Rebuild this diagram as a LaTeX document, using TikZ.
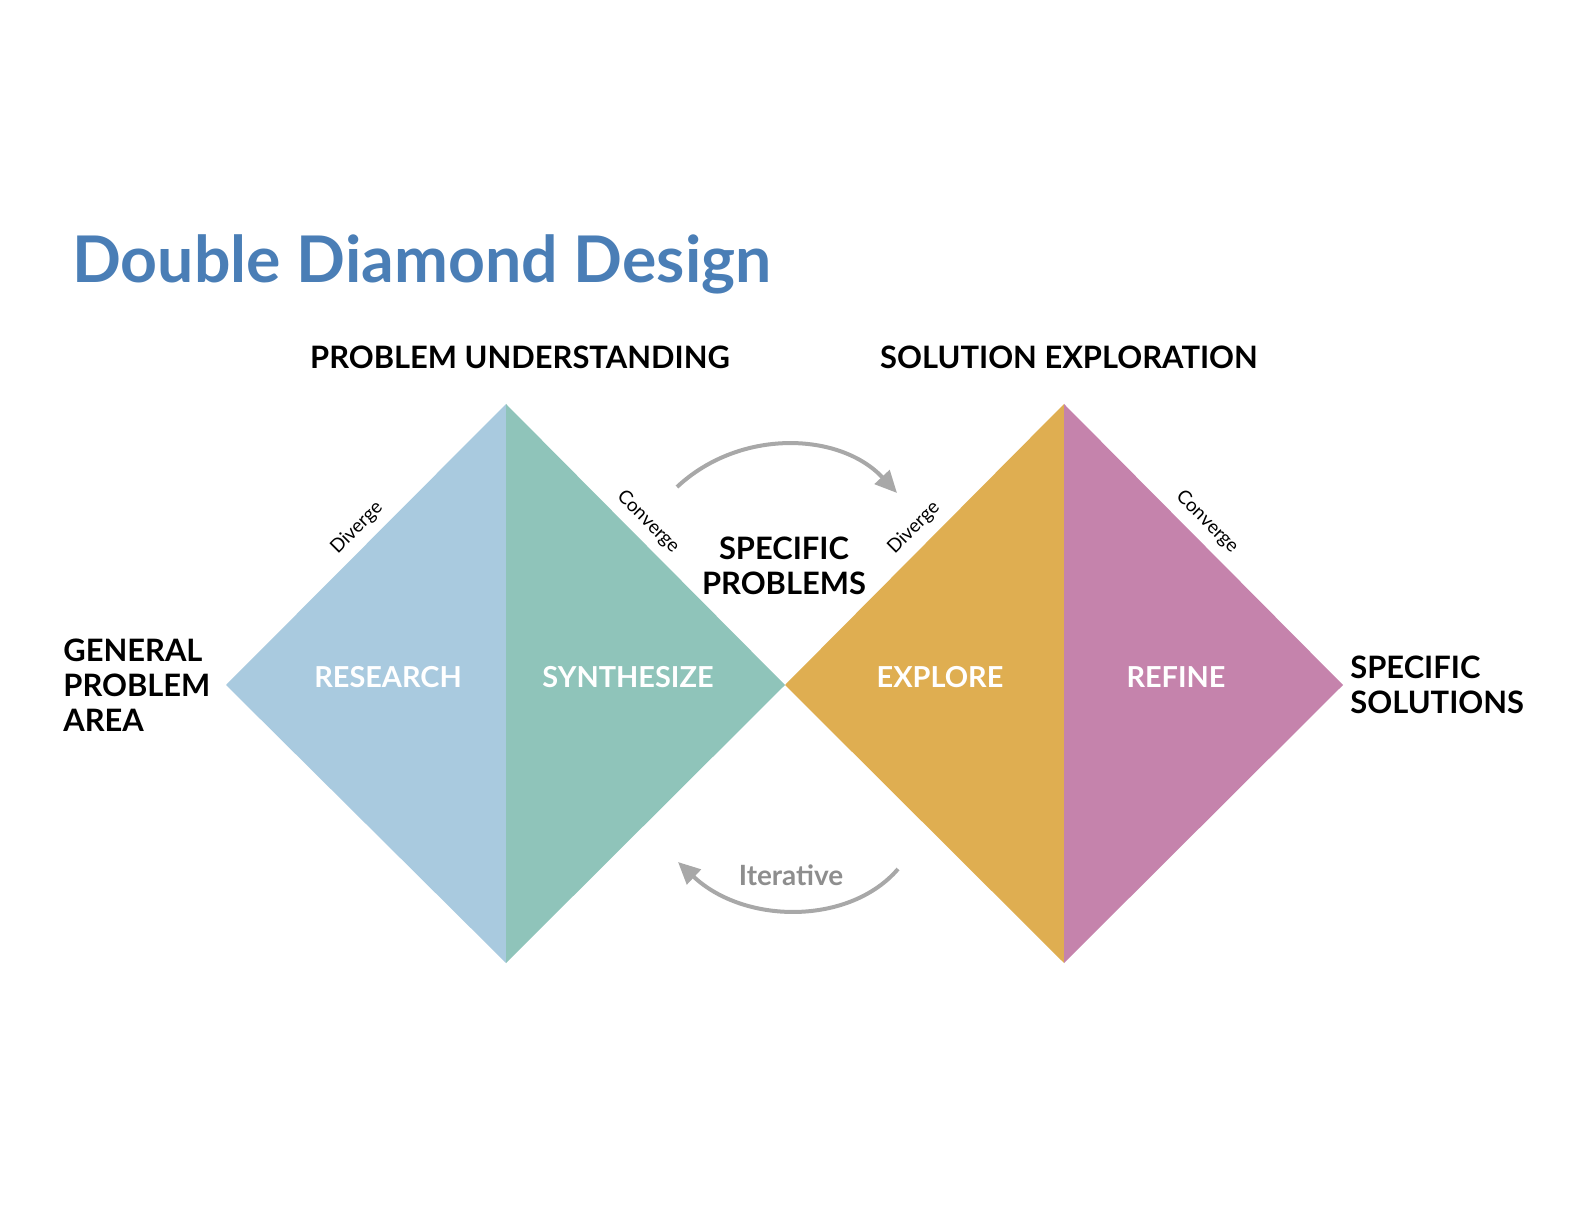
\documentclass[tikz,border=0pt]{standalone}
\usepackage{fontspec}
\setmainfont{Lato}
\usepackage{tikz}
\usetikzlibrary{calc,positioning,arrows.meta}
\definecolor{titleblue}{HTML}{4A7EB6}
\definecolor{researchblue}{HTML}{A9CADF}
\definecolor{synthteal}{HTML}{8FC4BA}
\definecolor{exploregold}{HTML}{DFAE51}
\definecolor{refinepink}{HTML}{C583AC}
\definecolor{loopgray}{HTML}{A8A8A8}
\definecolor{textgray}{HTML}{8E8E8E}

\begin{document}
\begin{tikzpicture}[x=0.5bp,y=-0.5bp,
heading/.style={font=\fontsize{15.5}{17.5}\selectfont\bfseries,text=black},
phase/.style={font=\fontsize{14.5}{17}\selectfont\bfseries,text=white},
edgelabel/.style={font=\fontsize{9.5}{11}\selectfont,text=black},
loop/.style={draw=loopgray,line width=2bp,-{Triangle[length=11bp,width=10bp]}}]
\useasboundingbox (0,0) rectangle (1584,1224);
% diamond corners
\coordinate (general) at (226,685);
\coordinate (top1) at (506,404);
\coordinate (bottom1) at (506,963);
\coordinate (middle) at (785,685);
\coordinate (top2) at (1064,404);
\coordinate (bottom2) at (1064,963);
\coordinate (specific) at (1343,685);
\fill[researchblue] (general) -- (top1) -- (bottom1) -- cycle;
\fill[synthteal] (top1) -- (middle) -- (bottom1) -- cycle;
\fill[exploregold] (middle) -- (top2) -- (bottom2) -- cycle;
\fill[refinepink] (top2) -- (specific) -- (bottom2) -- cycle;

\node (title) at (72,283)[anchor=base west,inner sep=0pt,text=titleblue,font=\fontsize{32.3}{36}\selectfont\bfseries]{Double Diamond Design};
\node (understanding) at (520,369)[heading,anchor=base]{PROBLEM UNDERSTANDING};
\node (exploration) at (1069,369)[heading,anchor=base]{SOLUTION EXPLORATION};
\node (area) at (63,685)[heading,anchor=west,align=left,inner sep=0pt]{GENERAL\\PROBLEM\\AREA};
\node (problems) at (784,566)[heading,align=center,inner sep=0pt]{SPECIFIC\\PROBLEMS};
\node (solutions) at (1350,685)[heading,anchor=west,align=left,inner sep=0pt]{SPECIFIC\\SOLUTIONS};

\node (research) at (388,677)[phase]{RESEARCH};
\node (synthesize) at (628,677)[phase]{SYNTHESIZE};
\node (explore) at (940,677)[phase]{EXPLORE};
\node (refine) at (1176,677)[phase]{REFINE};

\node (diverge1) at (357,528)[edgelabel,rotate=45]{Diverge};
\node (converge1) at (648,522)[edgelabel,rotate=-45]{Converge};
\node (diverge2) at (914,528)[edgelabel,rotate=45]{Diverge};
\node (converge2) at (1207,522)[edgelabel,rotate=-45]{Converge};

% loop arrows
\coordinate (fromsynth) at (677,487);
\coordinate (toexplore) at (897,493);
\coordinate (fromexplore) at (898,869);
\coordinate (tosynth) at (678,862);
\draw[loop] (fromsynth) .. controls (740,428) and (840,432) .. (toexplore);
\draw[loop] (fromexplore) .. controls (850,925) and (745,925) .. (tosynth);
\node (iterative) at (791,875)[text=textgray,font=\fontsize{14}{16}\selectfont\bfseries]{Iterative};
\end{tikzpicture}
\end{document}
